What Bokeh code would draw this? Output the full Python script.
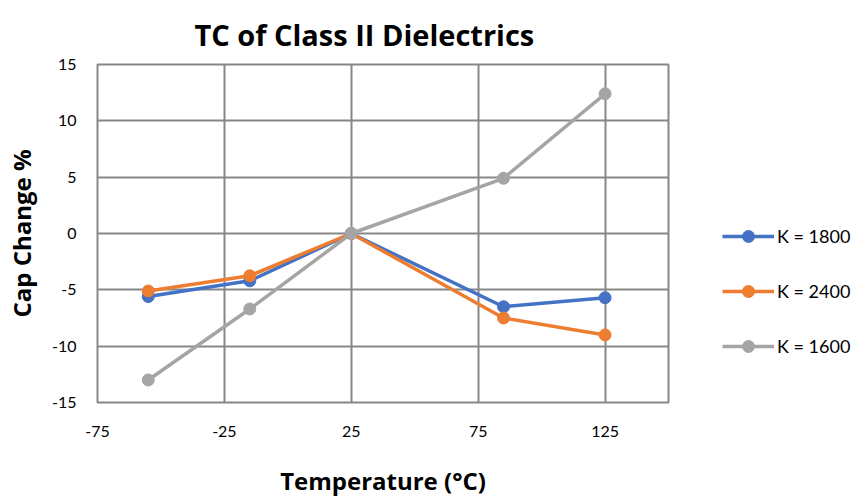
from bokeh.plotting import figure
from bokeh.layouts import row
from bokeh.models import Legend, LegendItem, FixedTicker, Range1d, Title
from bokeh.embed import file_html
from bokeh.resources import INLINE

temps = [-55, -15, 25, 85, 125]
k1800 = [-5.6, -4.2, 0.0, -6.5, -5.7]
k2400 = [-5.1, -3.75, 0.0, -7.5, -9.0]
k1600 = [-13.0, -6.7, 0.0, 4.9, 12.4]
series_names = ["K = 1800", "K = 2400", "K = 1600"]
colors = ["#4472C4", "#ED7D31", "#A5A5A5"]
x_ticks = [-75, -25, 25, 75, 125]
y_ticks = [-15, -10, -5, 0, 5, 10, 15]

FONT = "Lato"
BOLD_FONT = "Open Sans"
GRID = "#878787"
H = 500

p = figure(width=690, height=H, output_backend="svg", toolbar_location=None,
           x_range=Range1d(-75, 150), y_range=Range1d(-15, 15),
           min_border_left=97, min_border_top=64, min_border_right=22,
           min_border_bottom=H - 402)
p.title = None
p.add_layout(Title(text="TC of Class II Dielectrics", align="left", text_font=BOLD_FONT,
                   text_font_size="29px", text_font_style="bold", text_color="#000000",
                   offset=97, standoff=21), "above")

p.outline_line_color = GRID
p.outline_line_width = 2
p.xaxis.ticker = FixedTicker(ticks=x_ticks)
p.yaxis.ticker = FixedTicker(ticks=y_ticks)
p.xaxis.major_label_overrides = {t: str(t) for t in x_ticks}
p.yaxis.major_label_overrides = {t: str(t) for t in y_ticks}
for ax in (p.xaxis[0], p.yaxis[0]):
    ax.axis_line_color = None
    ax.major_tick_line_color = None
    ax.minor_tick_line_color = None
    ax.major_tick_out = 0
    ax.major_tick_in = 0
    ax.minor_tick_out = 0
    ax.minor_tick_in = 0
    ax.major_label_text_font = FONT
    ax.major_label_text_font_size = "16px"
    ax.major_label_text_color = "#000000"
    ax.axis_label_text_font = BOLD_FONT
    ax.axis_label_text_font_size = "24px"
    ax.axis_label_text_font_style = "bold"
    ax.axis_label_text_color = "#000000"
p.xaxis.axis_label = "Temperature (°C)"
p.yaxis.axis_label = "Cap Change %"
p.xaxis.major_label_standoff = 23
p.yaxis.major_label_standoff = 21
p.xaxis.axis_label_standoff = 24
p.yaxis.axis_label_standoff = 11

p.xgrid.grid_line_color = GRID
p.ygrid.grid_line_color = GRID
p.xgrid.grid_line_width = 2
p.ygrid.grid_line_width = 2

for ys, c in zip([k1800, k2400, k1600], colors):
    p.line(temps, ys, line_color=c, line_width=3.5)
    p.scatter(temps, ys, size=12, fill_color=c, line_color=c)

# legend panel: a small figure to the right; its series lie outside its view,
# so only the legend (line + marker swatches and labels) is visible
lp = figure(width=165, height=H, output_backend="svg", toolbar_location=None,
            x_range=Range1d(1000, 1001), y_range=Range1d(1000, 1001),
            min_border_left=0, min_border_right=0, min_border_top=0, min_border_bottom=0)
lp.title = None
lp.axis.visible = False
lp.grid.visible = False
lp.outline_line_color = None
items = []
for name, ys, c in zip(series_names, [k1800, k2400, k1600], colors):
    l = lp.line(temps, ys, line_color=c, line_width=3.5)
    m = lp.scatter(temps, ys, size=12, fill_color=c, line_color=c)
    items.append(LegendItem(label=name, renderers=[l, m]))
legend = Legend(items=items, location=(32, 41), glyph_width=52, glyph_height=30,
                spacing=25, label_standoff=3, label_text_font=FONT,
                label_text_font_size="18px", label_text_color="#000000",
                border_line_color=None, background_fill_alpha=0, padding=0, margin=0)
lp.add_layout(legend, "center")

layout = row(p, lp)
open("out.html", "w").write(file_html(layout, INLINE))
